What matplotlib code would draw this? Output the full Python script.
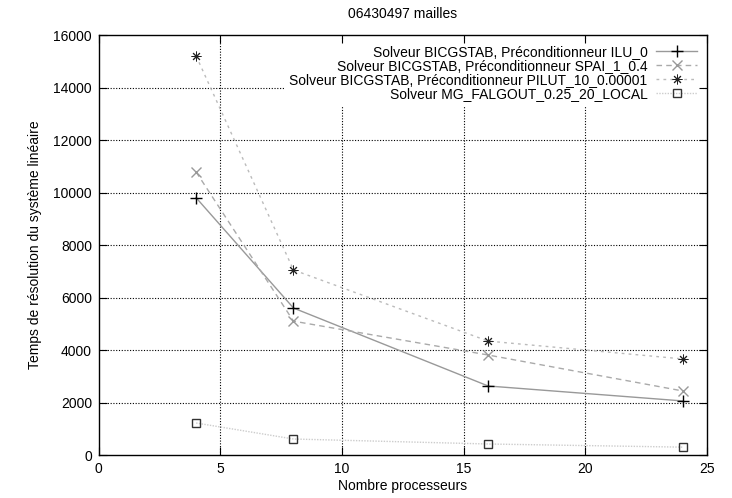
import matplotlib
matplotlib.use("Agg")
import matplotlib.pyplot as plt

plt.rcParams["font.family"] = ["Liberation Sans", "DejaVu Sans"]

# Data
procs = [4, 8, 16, 24]
ilu_0 = [9800, 5600, 2630, 2060]
spai = [10780, 5100, 3810, 2440]
pilut = [15200, 7050, 4340, 3660]
mg_falgout = [1220, 610, 420, 300]

labels = [
    "Solveur BICGSTAB, Préconditionneur ILU_0",
    "Solveur BICGSTAB, Préconditionneur SPAI_1_0.4",
    "Solveur BICGSTAB, Préconditionneur PILUT_10_0.00001",
    "Solveur MG_FALGOUT_0.25_20_LOCAL",
]
x_ticks = [0, 5, 10, 15, 20, 25]
y_ticks = [0, 2000, 4000, 6000, 8000, 10000, 12000, 14000, 16000]

fig = plt.figure(figsize=(7.32, 4.98), dpi=100)
ax = fig.add_axes([0.135, 0.0863, 0.831, 0.8434])

# grid drawn by hand so the legend can sit on top of it but under the ticks
for yv in y_ticks[1:-1]:
    ax.axhline(yv, color="black", linestyle=(0, (1, 1.5)), linewidth=0.8, zorder=0.5)
for xv in x_ticks[1:-1]:
    ax.axvline(xv, color="black", linestyle=(0, (1, 1.5)), linewidth=0.8, zorder=0.5)

ax.plot(procs, ilu_0, color="#999999", linestyle="-", linewidth=1.0,
        marker="+", markersize=8, markeredgecolor="black", markeredgewidth=1.0,
        label=labels[0], zorder=3)
ax.plot(procs, spai, color="#aaaaaa", linestyle=(0, (4, 3)), linewidth=1.0,
        marker="x", markersize=7, markeredgecolor="#999999", markeredgewidth=1.0,
        label=labels[1], zorder=3)
ax.plot(procs, pilut, color="#bbbbbb", linestyle=(0, (2, 3)), linewidth=1.0,
        marker=(8, 2, 0), markersize=7, markeredgecolor="#222222", markeredgewidth=0.7,
        label=labels[2], zorder=3)
ax.plot(procs, mg_falgout, color="#cccccc", linestyle=(0, (1, 1)), linewidth=1.0,
        marker="s", markersize=6, markerfacecolor="none", markeredgecolor="#333333",
        markeredgewidth=1.0, label=labels[3], zorder=3)

ax.set_xlim(0, 25)
ax.set_ylim(0, 16000)
ax.set_xticks(x_ticks)
ax.set_yticks(y_ticks)
ax.tick_params(direction="in", top=True, right=True, length=6, width=0.8,
               labelsize=10, pad=5)
for s in ax.spines.values():
    s.set_linewidth(1.0)

ax.set_xlabel("Nombre processeurs", fontsize=10, labelpad=2)
ax.set_ylabel("Temps de résolution du système linéaire", fontsize=10, labelpad=8)
ax.set_title("06430497 mailles", fontsize=10, pad=12)

leg = ax.legend(loc="upper right", markerfirst=False, fontsize=10,
                frameon=True, fancybox=False, edgecolor="none", facecolor="white",
                framealpha=1.0, handlelength=3.0, labelspacing=0.0,
                borderaxespad=0.3, handletextpad=0.6, borderpad=0.4)
leg.set_zorder(1)

fig.savefig("out.png", dpi=100)
